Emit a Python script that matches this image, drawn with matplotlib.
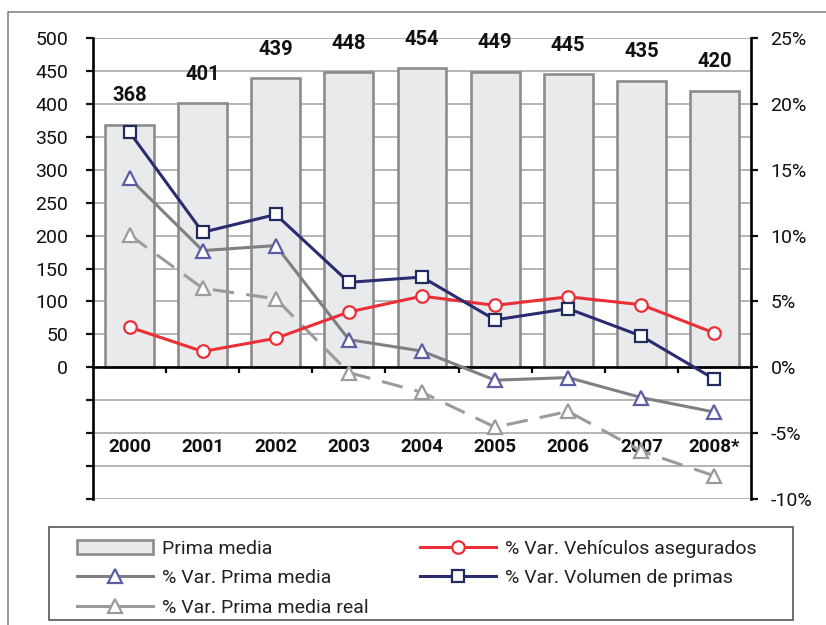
import matplotlib
matplotlib.use('Agg')
import matplotlib.pyplot as plt
from matplotlib.lines import Line2D
from matplotlib.patches import Rectangle, Patch

plt.rcParams['font.family'] = ['Roboto', 'DejaVu Sans']

# data
years = ['2000', '2001', '2002', '2003', '2004', '2005', '2006', '2007', '2008*']
prima_media = [368, 401, 439, 448, 454, 449, 445, 435, 420]
var_prima_media = [14.35, 8.86, 9.24, 2.1, 1.23, -0.98, -0.78, -2.3, -3.4]
var_prima_media_real = [10.05, 6.0, 5.2, -0.4, -1.9, -4.55, -3.35, -6.37, -8.25]
var_vehiculos = [3.05, 1.2, 2.2, 4.2, 5.4, 4.7, 5.35, 4.75, 2.6]
var_volumen = [17.85, 10.25, 11.6, 6.45, 6.85, 3.6, 4.45, 2.37, -0.9]

left_ticks = list(range(-200, 501, 50))
right_ticks = list(range(-10, 26, 5))

W, H = 826, 625
fig = plt.figure(figsize=(W / 100, H / 100), dpi=100)
fig.patch.set_facecolor('white')


def fx(px):
    return px / W


def fy(py):
    return 1 - py / H


ax = fig.add_axes([fx(93), fy(499), fx(751) - fx(93), fy(38) - fy(499)])
ax2 = ax.twinx()

x = list(range(len(years)))

# bars
ax.bar(x, prima_media, width=0.67, color='#E9EAEC', edgecolor='#8C8C8E',
       linewidth=1.9, zorder=2)
for xi, v in zip(x, prima_media):
    ax.text(xi, v + 44, str(v), ha='center', va='center', fontsize=14.5,
            fontweight='bold', color='#111111', zorder=5)

ax.set_xlim(-0.5, len(years) - 0.5)
ax.set_ylim(-200, 500)
ax.set_yticks(left_ticks)
ax.set_yticklabels([str(v) if v >= 0 else '' for v in left_ticks])
ax.tick_params(axis='y', direction='out', length=5, width=1.6, pad=13,
               labelsize=14, colors='#111111')
ax.grid(axis='y', color='#A8A8A8', linewidth=1.2, zorder=0)
ax.set_axisbelow(True)

ax.spines['bottom'].set_position(('data', 0))
ax.spines['bottom'].set_linewidth(1.9)
ax.spines['bottom'].set_color('black')
ax.spines['left'].set_linewidth(1.9)
ax.spines['left'].set_color('black')
ax.spines['top'].set_visible(False)
ax.spines['right'].set_visible(False)
ax.set_xticks([i + 0.5 for i in range(len(years) - 1)])
ax.set_xticklabels([])
ax.tick_params(axis='x', direction='out', length=4, width=1.6, color='black')

for xi, lab in zip(x, years):
    ax.text(xi, -121, lab, ha='center', va='center', fontsize=13.5,
            fontweight='bold', color='#111111', zorder=5)

# lines on the percentage axis
ax2.set_ylim(-10, 25)
ax2.set_yticks(right_ticks)
ax2.set_yticklabels([f'{v}%' for v in right_ticks])
ax2.tick_params(axis='y', direction='out', length=5, width=1.6, pad=9,
                labelsize=14, colors='#111111')
for s in ['top', 'bottom', 'left']:
    ax2.spines[s].set_visible(False)
ax2.spines['right'].set_linewidth(1.9)
ax2.spines['right'].set_color('black')

ax2.plot(x, var_prima_media_real, color='#9B9B9D', lw=2.2, dashes=(7, 4),
         marker='^', ms=10, mfc='white', mec='#9B9B9D', mew=1.6, zorder=3)
ax2.plot(x, var_prima_media, color='#808083', lw=2.2,
         marker='^', ms=10, mfc='white', mec='#5C5EA4', mew=1.6, zorder=3)
ax2.plot(x, var_vehiculos, color='#EC2F37', lw=2.2,
         marker='o', ms=9, mfc='white', mec='#EC2F37', mew=1.6, zorder=4)
ax2.plot(x, var_volumen, color='#2B2C70', lw=2.2,
         marker='s', ms=9, mfc='white', mec='#1F2D5E', mew=1.6, zorder=4)

# outer frame
fig.add_artist(Line2D([fx(8), fx(8), fx(826)], [fy(625), fy(12), fy(12)],
                      color='#7A7A7A', lw=1.1))

# legend box
fig.add_artist(Rectangle((fx(49), fy(620)), fx(793) - fx(49), fy(527) - fy(620),
                         fill=False, edgecolor='#555555', lw=1.2))

h_bar = Patch(facecolor='#E9EAEC', edgecolor='#8C8C8E', linewidth=1.9)
h_pm = Line2D([], [], color='#808083', lw=2.2, marker='^', ms=10,
              mfc='white', mec='#5C5EA4', mew=1.6)
h_pmr = Line2D([], [], color='#9B9B9D', lw=2.2, marker='^', ms=10,
               mfc='white', mec='#9B9B9D', mew=1.6)
h_veh = Line2D([], [], color='#EC2F37', lw=2.2, marker='o', ms=9,
               mfc='white', mec='#EC2F37', mew=1.6)
h_vol = Line2D([], [], color='#2B2C70', lw=2.2, marker='s', ms=9,
               mfc='white', mec='#1F2D5E', mew=1.6)

leg_kw = dict(loc='upper left', frameon=False, fontsize=14, borderpad=0,
              borderaxespad=0, handlelength=3.9, handletextpad=0.45,
              labelspacing=0.58, labelcolor='#222222')
leg1 = fig.legend([h_bar, h_pm, h_pmr],
                  ['Prima media', '% Var. Prima media', '% Var. Prima media real'],
                  bbox_to_anchor=(fx(77), fy(540)), **leg_kw)
leg2 = fig.legend([h_veh, h_vol],
                  ['% Var. Vehículos asegurados', '% Var. Volumen de primas'],
                  bbox_to_anchor=(fx(420), fy(540)), **leg_kw)

fig.savefig('out.png', dpi=100)
